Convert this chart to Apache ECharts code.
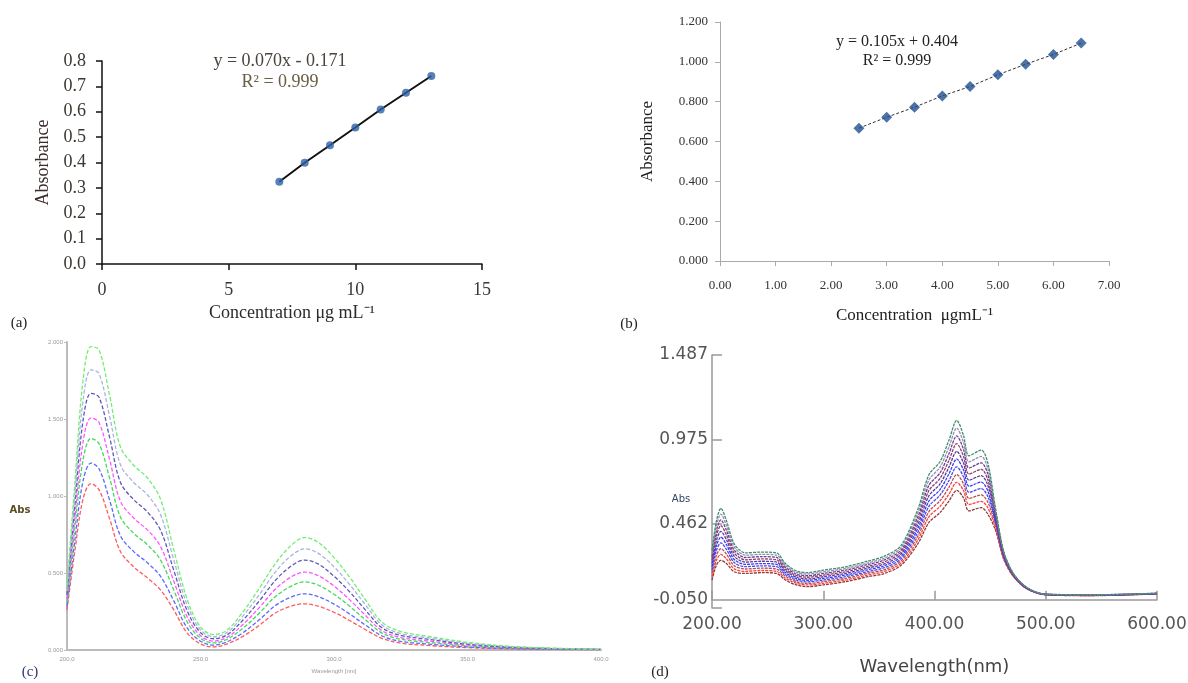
<!DOCTYPE html>
<html><head><meta charset="utf-8">
<script src="https://cdn.jsdelivr.net/npm/echarts@6/dist/echarts.min.js"></script>
<style>html,body{margin:0;padding:0;background:#fff}#c{width:1188px;height:683px}</style>
</head><body><div id="c"></div>
<script>
// ---- Panel (a): calibration ----
const aConc = [7, 8, 9, 10, 11, 12, 13];
const aAbs = [0.324, 0.399, 0.468, 0.538, 0.609, 0.675, 0.741];
const aEq = 'y = 0.070x - 0.171';
const aR2 = 'R² = 0.999';
// ---- Panel (b): calibration ----
const bConc = [2.5, 3.0, 3.5, 4.0, 4.5, 5.0, 5.5, 6.0, 6.5];
const bAbs = [0.667, 0.722, 0.772, 0.829, 0.876, 0.935, 0.988, 1.037, 1.094];
const bEq = 'y = 0.105x + 0.404';
const bR2 = 'R² = 0.999';
// ---- Panel (c): spectra ----
const cWave = [200,203,206,209,212,216,220,225,230,235,240,245,250,255,260,266,272,278,284,289,294,300,306,312,318,325,335,350,370,400];
const cGreen1 = [0.41,1.10,1.75,1.97,1.95,1.65,1.32,1.20,1.12,0.98,0.65,0.33,0.15,0.10,0.13,0.25,0.40,0.56,0.68,0.73,0.70,0.60,0.47,0.32,0.18,0.12,0.09,0.05,0.02,0.005];
const cLavender = [0.385,1.024,1.619,1.819,1.795,1.514,1.204,1.088,1.010,0.880,0.584,0.293,0.131,0.086,0.115,0.223,0.359,0.506,0.613,0.657,0.629,0.540,0.422,0.288,0.162,0.107,0.080,0.044,0.018,0.0045];
const cNavy = [0.359,0.947,1.488,1.667,1.641,1.378,1.089,0.976,0.899,0.779,0.517,0.255,0.113,0.073,0.099,0.196,0.318,0.451,0.546,0.584,0.559,0.479,0.375,0.255,0.144,0.095,0.070,0.038,0.015,0.004];
const cMagenta = [0.332,0.866,1.350,1.507,1.477,1.234,0.966,0.857,0.782,0.673,0.447,0.216,0.093,0.058,0.083,0.167,0.275,0.394,0.475,0.506,0.484,0.415,0.324,0.221,0.125,0.081,0.059,0.032,0.013,0.0035];
const cGreen2 = [0.310,0.799,1.234,1.374,1.340,1.114,0.864,0.758,0.685,0.585,0.389,0.183,0.076,0.046,0.070,0.143,0.239,0.346,0.415,0.442,0.422,0.362,0.282,0.193,0.110,0.070,0.050,0.027,0.011,0.003];
const cBlue = [0.283,0.718,1.096,1.214,1.177,0.970,0.742,0.639,0.568,0.479,0.319,0.143,0.057,0.032,0.054,0.114,0.196,0.288,0.344,0.365,0.347,0.298,0.232,0.159,0.091,0.056,0.039,0.020,0.008,0.0025];
const cRed = [0.26,0.65,0.98,1.08,1.04,0.85,0.64,0.54,0.47,0.39,0.26,0.11,0.04,0.02,0.04,0.09,0.16,0.24,0.285,0.30,0.285,0.245,0.19,0.13,0.075,0.045,0.03,0.015,0.006,0.002];
const cYTicks = ['0.000','0.500','1.000','1.500','2.000'];
// ---- Panel (d): spectra ----
const dWave = [200,204,208,213,220,230,245,258,266,276,286,300,320,340,355,370,385,395,405,413,420,426,431,442,448,455,462,470,480,490,500,540,600];
const d1 = [0.30,0.48,0.556,0.48,0.34,0.285,0.29,0.285,0.22,0.175,0.165,0.18,0.20,0.235,0.265,0.33,0.55,0.76,0.84,0.97,1.09,1.00,0.875,0.91,0.83,0.55,0.30,0.17,0.09,0.05,0.035,0.03,0.04];
const d2 = [0.28,0.45,0.521,0.451,0.321,0.271,0.276,0.271,0.209,0.166,0.156,0.17,0.19,0.224,0.253,0.317,0.527,0.728,0.806,0.929,1.043,0.958,0.838,0.871,0.796,0.536,0.294,0.168,0.089,0.05,0.034,0.03,0.04];
const d3 = [0.26,0.42,0.486,0.422,0.302,0.257,0.262,0.257,0.198,0.156,0.146,0.16,0.18,0.214,0.242,0.303,0.503,0.696,0.772,0.888,0.996,0.916,0.801,0.832,0.762,0.522,0.289,0.166,0.088,0.049,0.034,0.029,0.039];
const d4 = [0.24,0.39,0.451,0.393,0.283,0.243,0.248,0.243,0.187,0.147,0.137,0.15,0.17,0.203,0.23,0.29,0.48,0.664,0.738,0.847,0.949,0.874,0.764,0.793,0.728,0.508,0.283,0.163,0.087,0.049,0.033,0.029,0.039];
const d5 = [0.22,0.36,0.416,0.364,0.264,0.229,0.234,0.229,0.176,0.137,0.127,0.14,0.16,0.193,0.218,0.277,0.457,0.632,0.704,0.806,0.902,0.832,0.727,0.754,0.694,0.494,0.278,0.161,0.086,0.048,0.033,0.028,0.038];
const d6 = [0.20,0.33,0.381,0.335,0.245,0.215,0.22,0.215,0.165,0.128,0.118,0.13,0.15,0.182,0.207,0.263,0.433,0.60,0.67,0.765,0.855,0.79,0.69,0.715,0.66,0.48,0.272,0.159,0.084,0.047,0.032,0.027,0.037];
const d7 = [0.18,0.30,0.346,0.306,0.226,0.201,0.206,0.201,0.154,0.119,0.109,0.12,0.14,0.171,0.195,0.25,0.41,0.568,0.636,0.724,0.808,0.748,0.653,0.676,0.626,0.466,0.267,0.157,0.083,0.047,0.032,0.027,0.037];
const d8 = [0.16,0.27,0.311,0.277,0.207,0.187,0.192,0.187,0.143,0.109,0.099,0.11,0.13,0.161,0.183,0.237,0.387,0.536,0.602,0.683,0.761,0.706,0.616,0.637,0.592,0.452,0.261,0.154,0.082,0.046,0.031,0.026,0.036];
const d9 = [0.14,0.24,0.276,0.248,0.188,0.173,0.178,0.173,0.131,0.10,0.09,0.10,0.12,0.15,0.172,0.223,0.363,0.504,0.568,0.642,0.714,0.664,0.579,0.598,0.558,0.438,0.256,0.152,0.081,0.046,0.031,0.026,0.036];
const d10 = [0.12,0.21,0.24,0.22,0.17,0.16,0.165,0.16,0.12,0.09,0.08,0.09,0.11,0.14,0.16,0.21,0.34,0.47,0.53,0.60,0.665,0.62,0.54,0.56,0.52,0.42,0.25,0.15,0.08,0.045,0.03,0.025,0.035];
const dYTicks = ['-0.050','0.462','0.975','1.487'];

const cSeriesList = [cRed, cBlue, cGreen2, cMagenta, cNavy, cLavender, cGreen1];
const cColors = ['#ff5a5a','#5a6aff','#45d85a','#ff55ff','#5a5ab8','#aab2de','#70ee70'];
const dSeriesList = [d10, d9, d8, d7, d6, d5, d4, d3, d2, d1];
const dColors = ['#8c3c3c','#ff4040','#b85050','#4a4ae6','#3a3aff','#5a3a96','#8b4068','#6a3d9a','#9a8cb0','#3d8f6a'];

const serif = 'Liberation Serif';
const sans = 'DejaVu Sans';
const chart = echarts.init(document.getElementById('c'), null, {renderer: 'canvas'});

const series = [];
// (a)
series.push({type:'line', xAxisIndex:0, yAxisIndex:0, data: aConc.map((x,i)=>[x,aAbs[i]]), symbol:'none', lineStyle:{color:'#111', width:2}, z:2});
series.push({type:'scatter', xAxisIndex:0, yAxisIndex:0, data: aConc.map((x,i)=>[x,aAbs[i]]), symbol:'circle', symbolSize:8, itemStyle:{color:'#2f62a8'}, z:3});
// (b)
series.push({type:'line', xAxisIndex:1, yAxisIndex:1, data: bConc.map((x,i)=>[x,bAbs[i]]), symbol:'none', lineStyle:{color:'#333', width:1, type:[3,2]}, z:2});
series.push({type:'scatter', xAxisIndex:1, yAxisIndex:1, data: bConc.map((x,i)=>[x,bAbs[i]]), symbol:'diamond', symbolSize:11, itemStyle:{color:'#1f4f90'}, z:3});
// (c)
cSeriesList.forEach((arr,k)=>{
  series.push({type:'line', xAxisIndex:2, yAxisIndex:2, data: cWave.map((w,i)=>[w,arr[i]]), symbol:'none', smooth:0.35,
    lineStyle:{color:cColors[k], width:1.3, type:[4,2]}});
});
// (d)
dSeriesList.forEach((arr,k)=>{
  series.push({type:'line', xAxisIndex:3, yAxisIndex:3, data: dWave.map((w,i)=>[w,arr[i]]), symbol:'none', smooth:0.3,
    lineStyle:{color:dColors[k], width:1.3, type:[3,1]}});
});

const txt = (x,y,t,o) => ({type:'text', x:x, y:y, style:Object.assign({text:t, x:0, y:0, fill:'#222', font:'15px '+serif, textAlign:'center', textVerticalAlign:'middle'}, o||{})});

chart.setOption({
  animation:false,
  backgroundColor:'#fff',
  grid:[
    {left:102, top:61, width:380, height:203, outerBoundsMode:'none'},
    {left:720, top:22, width:389, height:239, outerBoundsMode:'none'},
    {left:67, top:342, width:534, height:308, outerBoundsMode:'none'},
    {left:712, top:355, width:445, height:253, outerBoundsMode:'none'}
  ],
  xAxis:[
    {gridIndex:0, type:'value', min:0, max:15, interval:5, axisLine:{lineStyle:{color:'#111', width:1.5}}, axisTick:{show:true, length:6, lineStyle:{color:'#111', width:1.5}}, splitLine:{show:false},
      axisLabel:{color:'#3b3630', fontFamily:serif, fontSize:18, margin:17},
      name:'Concentration μg mL⁻¹', nameLocation:'middle', nameGap:40, nameTextStyle:{color:'#2b2b2b', fontFamily:serif, fontSize:18}},
    {gridIndex:1, type:'value', min:0, max:7, interval:1, axisLine:{lineStyle:{color:'#aaa', width:1}}, axisTick:{show:true, length:5, lineStyle:{color:'#aaa'}}, splitLine:{show:false},
      axisLabel:{color:'#333', fontFamily:serif, fontSize:13, margin:18, formatter:v=>v.toFixed(2)},
      name:'Concentration  μgmL⁻¹', nameLocation:'middle', nameGap:46, nameTextStyle:{color:'#222', fontFamily:serif, fontSize:17}},
    {gridIndex:2, type:'value', min:200, max:400, interval:50, axisLine:{lineStyle:{color:'#bbb', width:2}}, axisTick:{show:false}, splitLine:{show:false},
      axisLabel:{color:'#999', fontSize:6, margin:6, formatter:v=>v.toFixed(1)},
      name:'Wavelength [nm]', nameLocation:'middle', nameGap:18, nameTextStyle:{color:'#999', fontSize:6}},
    {gridIndex:3, type:'value', min:200, max:600, interval:100, axisLine:{lineStyle:{color:'#999', width:1.5}}, axisTick:{show:true, inside:true, length:9, lineStyle:{color:'#999', width:1.5}}, splitLine:{show:false},
      axisLabel:{color:'#555', fontFamily:sans, fontSize:17, margin:8, formatter:v=>v.toFixed(2)},
      name:'Wavelength(nm)', nameLocation:'middle', nameGap:50, nameTextStyle:{color:'#444', fontFamily:sans, fontSize:18}}
  ],
  yAxis:[
    {gridIndex:0, type:'value', min:0, max:0.8, interval:0.1, axisLine:{show:true, lineStyle:{color:'#111', width:1.5}}, axisTick:{show:true, length:6, lineStyle:{color:'#111', width:1.5}}, splitLine:{show:false},
      axisLabel:{color:'#3b3630', fontFamily:serif, fontSize:18, margin:16, formatter:v=>v.toFixed(1)},
      name:'Absorbance', nameLocation:'middle', nameGap:50, nameTextStyle:{color:'#3a2a2a', fontFamily:serif, fontSize:18}},
    {gridIndex:1, type:'value', min:0, max:1.2, interval:0.2, axisLine:{show:true, lineStyle:{color:'#aaa', width:1}}, axisTick:{show:true, length:5, lineStyle:{color:'#aaa'}}, splitLine:{show:false},
      axisLabel:{color:'#333', fontFamily:serif, fontSize:13, margin:12, formatter:v=>v.toFixed(3)},
      name:'Absorbance', nameLocation:'middle', nameGap:64, nameTextStyle:{color:'#222', fontFamily:serif, fontSize:17}},
    {gridIndex:2, type:'value', min:0, max:2, interval:0.5, axisLine:{show:true, lineStyle:{color:'#bbb', width:2}}, axisTick:{show:true, length:3, lineStyle:{color:'#bbb'}}, splitLine:{show:false},
      axisLabel:{color:'#999', fontSize:6, margin:4, formatter:(v,i)=>cYTicks[i]}},
    {gridIndex:3, type:'value', min:-0.05, max:1.4875, interval:0.5125, axisLine:{show:true, lineStyle:{color:'#999', width:1.5}}, axisTick:{show:true, inside:true, length:10, lineStyle:{color:'#999', width:1.5}}, splitLine:{show:false},
      axisLabel:{color:'#555', fontFamily:sans, fontSize:17, margin:4,
        formatter:(v,i)=> i===0 ? '{lo|'+dYTicks[i]+'}' : dYTicks[i],
        rich:{lo:{color:'#555', fontFamily:sans, fontSize:17, padding:[0,0,16,0]}}}}
  ],
  series: series,
  graphic:[
    txt(280,61,aEq,{fill:'#4a443a', font:'18px '+serif}),
    txt(280,82,aR2,{fill:'#6b5e45', font:'18px '+serif}),
    txt(897,42,bEq,{fill:'#222', font:'16px '+serif}),
    txt(897,61,bR2,{fill:'#222', font:'16px '+serif}),
    txt(19,323,'(a)',{font:'15px '+serif}),
    txt(629,324,'(b)',{font:'15px '+serif}),
    txt(30,672,'(c)',{font:'15px '+serif, fill:'#2a3a6a'}),
    txt(660,672,'(d)',{font:'15px '+serif}),
    txt(20,510,'Abs',{font:'bold 10px '+sans, fill:'#5a4a20'}),
    txt(681,499,'Abs',{font:'10px '+sans, fill:'#334466'})
  ]
});
</script></body></html>
